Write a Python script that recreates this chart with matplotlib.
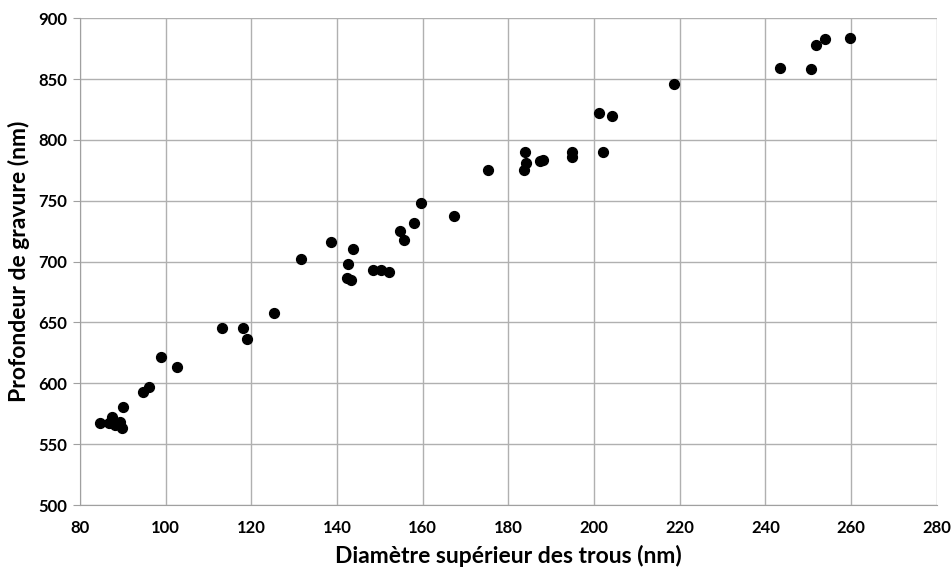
import matplotlib.pyplot as plt

# diametre superieur (nm) / profondeur de gravure (nm)
diametre = [84.7, 86.8, 87.5, 88.1, 89.3, 89.8, 90.1, 94.7, 96.0, 99.0, 102.7,
            113.1, 118.1, 119.1, 125.3, 131.5, 138.6, 142.6, 142.4, 143.3, 143.7,
            148.4, 150.2, 152.1, 154.6, 155.7, 158.0, 159.5, 167.4, 175.2,
            183.9, 184.1, 183.7, 187.4, 188.1, 194.9, 194.9, 201.2, 202.2, 204.2,
            218.6, 243.3, 250.7, 251.9, 253.9, 259.7]
profondeur = [567.6, 567.0, 572.5, 565.7, 568.4, 563.0, 580.7, 592.6, 597.2, 621.8, 613.6,
              645.6, 645.1, 636.3, 657.4, 702.0, 716.3, 698.0, 686.2, 685.0, 710.3,
              693.3, 692.8, 691.6, 724.8, 717.9, 731.9, 748.0, 737.1, 775.4,
              789.9, 781.2, 775.2, 782.5, 783.6, 789.9, 786.1, 822.0, 789.9, 819.5,
              845.8, 859.2, 858.7, 878.4, 882.7, 883.8]

plt.rcParams['font.family'] = ['Lato', 'DejaVu Sans']

fig = plt.figure(figsize=(9.52, 5.70), dpi=100)
ax = fig.add_axes([0.084, 0.114, 0.900, 0.854])

ax.scatter(diametre, profondeur, s=50, color='black', zorder=3)

ax.set_xlim(80, 280)
ax.set_ylim(500, 900)
ax.set_xticks(range(80, 281, 20))
ax.set_yticks(range(500, 901, 50))
ax.grid(True, color='#b0b0b0', linewidth=1)
ax.set_axisbelow(True)

for s in ['top', 'right']:
    ax.spines[s].set_visible(False)
for s in ['left', 'bottom']:
    ax.spines[s].set_color('#a0a0a0')
ax.tick_params(axis='x', length=0, pad=11, labelsize=12)
ax.tick_params(axis='y', length=5, color='#a0a0a0', pad=4, labelsize=12)
for lab in ax.get_xticklabels() + ax.get_yticklabels():
    lab.set_fontweight('bold')

ax.set_xlabel('Diamètre supérieur des trous (nm)', fontsize=16.5, fontweight='bold', labelpad=6)
ax.set_ylabel('Profondeur de gravure (nm)', fontsize=16.5, fontweight='bold', labelpad=6)

fig.savefig('out.png', dpi=100)
